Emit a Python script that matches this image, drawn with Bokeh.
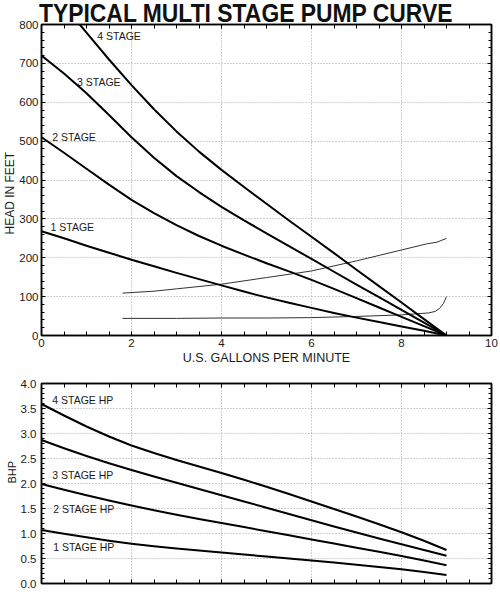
from bokeh.plotting import figure
from bokeh.layouts import column
from bokeh.models import Range1d, FixedTicker, LinearAxis, Label, Title, NumeralTickFormatter, Div
from bokeh.embed import file_html
from bokeh.resources import INLINE

# ---------------- data ----------------
TITLE = "TYPICAL MULTI STAGE PUMP CURVE"

head_x = [0, 0.5, 1, 1.5, 2, 2.5, 3, 3.5, 4, 4.5, 5, 5.5, 6, 6.5, 7, 7.5, 8, 8.5, 9]
head_1 = [268, 250, 231, 213, 195, 178, 161, 145, 129, 113, 98, 84, 71, 58, 46, 35, 23, 12, 0]
head_2 = [510, 470, 429, 388, 349, 315, 284, 256, 231, 208, 186, 165, 143, 120, 96, 72, 48, 24, 0]
head_3 = [720, 674, 623, 567, 510, 457, 410, 369, 331, 296, 263, 230, 197, 164, 131, 99, 66, 33, 0]
head_4_x = [0.85, 1, 1.5, 2, 2.5, 3, 3.5, 4, 4.5, 5, 5.5, 6, 6.5, 7, 7.5, 8, 8.5, 9]
head_4 = [800, 779, 710, 644, 582, 525, 473, 426, 382, 339, 296, 254, 212, 169, 127, 85, 42, 0]

thin_upper_x = [1.8, 2.5, 3, 4, 5, 6, 7, 8, 8.57, 8.79, 9]
thin_upper = [109, 114, 120, 132, 149, 166, 192, 220, 236, 240, 250]
thin_lower_x = [1.8, 3, 4, 5, 6, 7, 8, 8.6, 8.75, 8.85, 8.93, 9]
thin_lower = [44, 44, 45, 45, 46, 49, 53, 58, 62, 70, 82, 100]

bhp_x = [0, 0.5, 1, 1.5, 2, 2.5, 3, 3.5, 4, 4.5, 5, 5.5, 6, 6.5, 7, 7.5, 8, 8.5, 9]
bhp_4 = [3.59, 3.36, 3.14, 2.94, 2.76, 2.61, 2.47, 2.34, 2.21, 2.075, 1.935, 1.79, 1.64, 1.49, 1.34, 1.185, 1.025, 0.855, 0.67]
bhp_3 = [2.87, 2.705, 2.55, 2.405, 2.27, 2.14, 2.015, 1.89, 1.765, 1.64, 1.515, 1.39, 1.265, 1.14, 1.02, 0.90, 0.785, 0.67, 0.555]
bhp_2 = [1.99, 1.875, 1.765, 1.66, 1.56, 1.465, 1.375, 1.29, 1.21, 1.128, 1.045, 0.963, 0.88, 0.798, 0.715, 0.633, 0.55, 0.46, 0.365]
bhp_1 = [1.07, 0.995, 0.925, 0.855, 0.795, 0.745, 0.70, 0.66, 0.62, 0.58, 0.54, 0.50, 0.46, 0.418, 0.375, 0.33, 0.285, 0.23, 0.17]

head_labels = ["4 STAGE", "3 STAGE", "2 STAGE", "1 STAGE"]
head_label_x = [1.24, 0.79, 0.24, 0.20]
head_label_y = [770, 651, 510, 278]

bhp_labels = ["4 STAGE HP", "3 STAGE HP", "2 STAGE HP", "1 STAGE HP"]
bhp_label_x = [0.24, 0.24, 0.26, 0.26]
bhp_label_y = [3.67, 2.18, 1.49, 0.73]

x_major = [0, 2, 4, 6, 8, 10]
x_minor = [i * 0.5 for i in range(21)]
x_grid = [2, 4, 6, 8]
head_major = [0, 100, 200, 300, 400, 500, 600, 700, 800]
head_minor = [i * 20 for i in range(41)]
head_grid = [100, 200, 300, 400, 500, 600, 700]
bhp_major = [0, 0.5, 1, 1.5, 2, 2.5, 3, 3.5, 4]
bhp_minor = [i * 0.1 for i in range(41)]
bhp_grid = [0.5, 1, 1.5, 2, 2.5, 3, 3.5]

FONT = "Liberation Sans"
TXT = "#1a1a1a"


def style_axis(ax, major, minor, show_labels, fmt=None):
    ax.ticker = FixedTicker(ticks=major, minor_ticks=minor)
    ax.major_tick_in = 4
    ax.major_tick_out = 0
    ax.minor_tick_in = 3
    ax.minor_tick_out = 0
    ax.axis_line_color = "black"
    ax.axis_line_width = 1.5
    ax.major_tick_line_color = "black"
    ax.minor_tick_line_color = "black"
    ax.major_label_text_font = FONT
    ax.major_label_text_font_size = "11.5px"
    if show_labels:
        ax.major_label_text_color = TXT
        ax.major_label_standoff = 3
    else:
        ax.major_label_text_color = None
        ax.major_label_standoff = 0
    if fmt is not None:
        ax.formatter = fmt


def make_fig(height, yr, border_top, border_bottom):
    p = figure(width=500, height=height, x_range=Range1d(0, 10), y_range=yr,
               output_backend="svg", toolbar_location=None,
               min_border_left=41, min_border_right=9,
               min_border_top=border_top, min_border_bottom=border_bottom)
    p.title.visible = False
    p.outline_line_color = "black"
    p.outline_line_width = 1.5
    p.background_fill_color = "white"
    p.border_fill_color = None
    p.add_layout(LinearAxis(), "right")
    p.add_layout(LinearAxis(), "above")
    for g in p.xgrid:
        g.ticker = FixedTicker(ticks=x_grid)
    for g in (p.xgrid + p.ygrid):
        g.grid_line_color = "#a0a0a0"
        g.grid_line_dash = "1 2"
        g.grid_line_width = 1
    return p


# ---------------- title ----------------
title_div = Div(
    text=('<div style="font-family: \'Liberation Sans\', Arial, sans-serif; font-weight: bold; '
          'font-size: 25px; line-height: 18px; height: 18px; white-space: nowrap; color: #111111; '
          'transform: scaleX(0.915); transform-origin: 0 0; margin: 0 0 0 39px; '
          'position: relative; top: 3.5px;">'
          + TITLE + '</div>'),
    width=500, height=18, margin=(0, 0, 0, 0), styles={"overflow": "visible"})

# ---------------- top: head ----------------
p1 = make_fig(352, Range1d(0, 800), 6, 35)

for g in p1.ygrid:
    g.ticker = FixedTicker(ticks=head_grid)
style_axis(p1.below[0], x_major, x_minor, True)
p1.below[0].minor_tick_in = 4
p1.below[0].axis_label = "U.S. GALLONS PER MINUTE"
p1.below[0].axis_label_text_font = FONT
p1.below[0].axis_label_text_font_style = "normal"
p1.below[0].axis_label_text_font_size = "12.5px"
p1.below[0].axis_label_text_color = TXT
p1.below[0].axis_label_standoff = 1
style_axis(p1.above[0], x_major, x_minor, False)
p1.above[0].minor_tick_in = 4
style_axis(p1.left[0], head_major, head_minor, True)
style_axis(p1.right[0], head_major, head_minor, False)

p1.add_layout(Title(text="HEAD IN FEET", align="left", offset=101, standoff=0,
                    text_font=FONT, text_font_style="normal", text_font_size="12px",
                    text_color=TXT), "left")

p1.line(thin_upper_x, thin_upper, line_color="#333333", line_width=1)
p1.line(thin_lower_x, thin_lower, line_color="#333333", line_width=1)
for ys in (head_1, head_2, head_3):
    p1.line(head_x, ys, line_color="black", line_width=2, line_join="round")
p1.line(head_4_x, head_4, line_color="black", line_width=2, line_join="round")

for t, lx, ly in zip(head_labels, head_label_x, head_label_y):
    p1.add_layout(Label(x=lx, y=ly, text=t, text_font=FONT, text_font_size="10.5px",
                        text_color=TXT, text_baseline="middle", text_align="left"))

# ---------------- bottom: BHP ----------------
p2 = make_fig(222, Range1d(0, 4), 13, 9)
for g in p2.ygrid:
    g.ticker = FixedTicker(ticks=bhp_grid)
style_axis(p2.below[0], x_major, x_minor, False)
p2.below[0].minor_tick_in = 4
style_axis(p2.above[0], x_major, x_minor, False)
p2.above[0].minor_tick_in = 4
style_axis(p2.left[0], bhp_major, bhp_minor, True, NumeralTickFormatter(format="0.0"))
p2.left[0].major_label_standoff = 5
style_axis(p2.right[0], bhp_major, bhp_minor, False)

p2.add_layout(Title(text="BHP", align="left", offset=100, standoff=0,
                    text_font=FONT, text_font_style="normal", text_font_size="11px",
                    text_color=TXT), "left")

for ys in (bhp_4, bhp_3, bhp_2, bhp_1):
    p2.line(bhp_x, ys, line_color="black", line_width=2, line_join="round")

for t, lx, ly in zip(bhp_labels, bhp_label_x, bhp_label_y):
    p2.add_layout(Label(x=lx, y=ly, text=t, text_font=FONT, text_font_size="10.5px",
                        text_color=TXT, text_baseline="middle", text_align="left"))

layout = column(title_div, p1, p2, spacing=0)
open("out.html", "w").write(file_html(layout, INLINE))
